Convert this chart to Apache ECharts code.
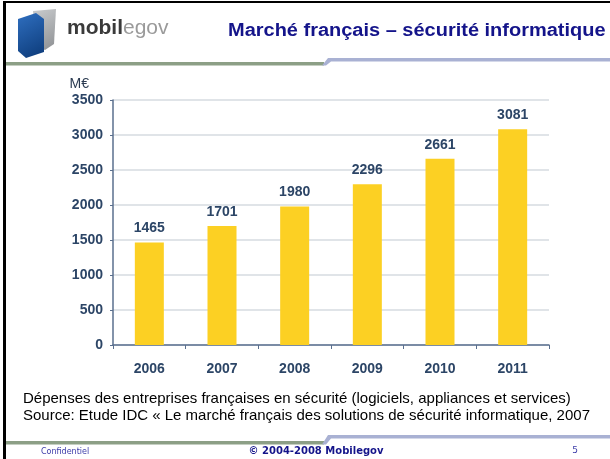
<!DOCTYPE html>
<html>
<head>
<meta charset="utf-8">
<script src="https://cdn.jsdelivr.net/npm/echarts@6/dist/echarts.min.js"></script>
<style>
  html, body { margin: 0; padding: 0; background: #fff; }
  #main { width: 610px; height: 459px; }
</style>
</head>
<body>
<div id="main"></div>
<script>
  // data
  var years = ['2006', '2007', '2008', '2009', '2010', '2011'];
  var spend = [1465, 1701, 1980, 2296, 2661, 3081];

  var titleText = 'Marché français – sécurité informatique';
  var caption1 = 'Dépenses des entreprises françaises en sécurité (logiciels, appliances et services)';
  var caption2 = 'Source: Etude IDC « Le marché français des solutions de sécurité informatique, 2007';

  var labelColor = '#2c4566';
  var green = '#8c9f86';
  var blue = '#a9b1d3';

  var myChart = echarts.init(document.getElementById('main'));

  // slide decoration: borders, separators, logo, footer
  function separator(yBlue, yGreen) {
    return [
      { type: 'rect', shape: { x: 6, y: yGreen, width: 318, height: 3.5 }, style: { fill: green } },
      { type: 'polygon', shape: { points: [[322, yGreen + 3.5], [326, yGreen + 3.5], [331, yBlue + 3.5], [610, yBlue + 3.5], [610, yBlue], [328, yBlue]] }, style: { fill: blue } }
    ];
  }

  var graphics = [
    { type: 'rect', shape: { x: 3, y: 1, width: 607, height: 2 }, style: { fill: '#000' } },
    { type: 'rect', shape: { x: 3, y: 1, width: 3, height: 458 }, style: { fill: '#000' } },
    // logo
    { type: 'polygon', shape: { points: [[33, 11], [56, 9], [54, 44], [45, 50], [36, 46]] },
      style: { fill: new echarts.graphic.LinearGradient(0, 0, 1, 1, [{ offset: 0, color: '#c9cbcd' }, { offset: 1, color: '#8d9093' }]) } },
    { type: 'polygon', shape: { points: [[18, 19], [36, 13], [44, 19], [44, 52], [26, 58], [18, 51]] },
      style: { fill: new echarts.graphic.LinearGradient(0, 0, 1, 1, [{ offset: 0, color: '#2f6fc0' }, { offset: 1, color: '#0c3a78' }]) } },
    { type: 'text', x: 67, y: 28, style: { text: 'mobil', fill: '#3a3a3a', font: 'bold 21px "Liberation Sans", Arial, sans-serif', verticalAlign: 'middle' } },
    { type: 'text', x: 123, y: 28, style: { text: 'egov', fill: '#9a9a9a', font: '21px "Liberation Sans", Arial, sans-serif', verticalAlign: 'middle' } },
    // slide title
    { type: 'text', x: 228, y: 31, scaleX: 1.11, style: { text: titleText, fill: '#14148a', font: 'bold 18px "Liberation Sans", Arial, sans-serif', verticalAlign: 'middle' } },
    // caption
    { type: 'text', x: 23, y: 399, style: { text: caption1, fill: '#000', font: '15px "Liberation Sans", Arial, sans-serif', verticalAlign: 'middle' } },
    { type: 'text', x: 23, y: 416, style: { text: caption2, fill: '#000', font: '15px "Liberation Sans", Arial, sans-serif', verticalAlign: 'middle' } },
    // footer
    { type: 'text', x: 41, y: 452, style: { text: 'Confidentiel', fill: '#3a3aa8', font: '8px "DejaVu Sans", sans-serif', verticalAlign: 'middle' } },
    { type: 'text', x: 316, y: 451, style: { text: '© 2004-2008 Mobilegov', fill: '#14148a', font: 'bold 10px "DejaVu Sans", sans-serif', align: 'center', verticalAlign: 'middle' } },
    { type: 'text', x: 575, y: 451, style: { text: '5', fill: '#3a3aa8', font: '9px "DejaVu Sans", sans-serif', align: 'center', verticalAlign: 'middle' } }
  ].concat(separator(58, 62)).concat(separator(435, 441));

  var option = {
    animation: false,
    backgroundColor: '#fff',
    textStyle: { fontFamily: '"Liberation Sans", Arial, sans-serif' },
    graphic: graphics,
    grid: { left: 113, top: 100, right: 61, bottom: 114, containLabel: false },
    xAxis: {
      type: 'category',
      data: years,
      axisLine: { lineStyle: { color: '#5a6f8e', width: 1.5 } },
      axisTick: { show: true, length: 4, lineStyle: { color: '#5a6f8e' } },
      axisLabel: { color: labelColor, fontWeight: 'bold', fontSize: 14, margin: 17 }
    },
    yAxis: {
      type: 'value',
      min: 0,
      max: 3500,
      interval: 500,
      name: 'M€',
      nameLocation: 'end',
      nameGap: 9,
      nameTextStyle: { color: '#2a3a50', fontSize: 14, align: 'right', padding: [0, 24, 0, 0] },
      axisLine: { show: true, lineStyle: { color: '#5a6f8e', width: 1.5 } },
      axisTick: { show: true, length: 3, lineStyle: { color: '#5a6f8e' } },
      axisLabel: { color: labelColor, fontWeight: 'bold', fontSize: 14, margin: 10, formatter: function (v) { return String(v); } },
      splitLine: { lineStyle: { color: '#d6dbe1', width: 1.5 } }
    },
    series: [
      {
        name: 'Dépenses',
        type: 'bar',
        data: spend,
        barWidth: 29,
        itemStyle: { color: '#fcd023' },
        label: { show: true, position: 'top', distance: 7, color: labelColor, fontWeight: 'bold', fontSize: 14 }
      }
    ]
  };

  myChart.setOption(option);
</script>
</body>
</html>
